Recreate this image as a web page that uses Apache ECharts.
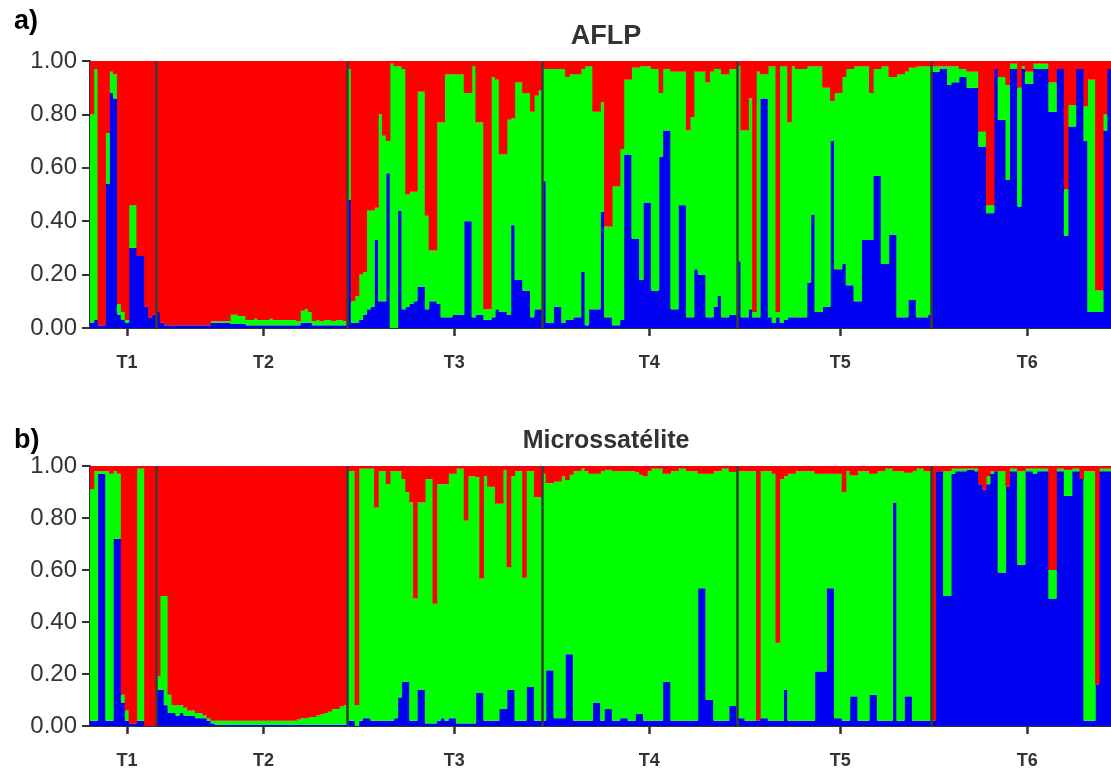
<!DOCTYPE html>
<html>
<head>
<meta charset="utf-8">
<script src="https://cdn.jsdelivr.net/npm/echarts@6/dist/echarts.min.js"></script>
<style>
html,body{margin:0;padding:0;background:#fff;}
#chart{width:1111px;height:770px;}
</style>
</head>
<body>
<div id="chart"></div>
<script>
// ---------------- DATA ----------------
const popNames = ['T1', 'T2', 'T3', 'T4', 'T5', 'T6'];
const popSizes = [17, 49, 50, 50, 50, 46];
const yTicks = [0, 0.2, 0.4, 0.6, 0.8, 1.0];

// AFLP (panel a): membership of cluster "blue" and "green"; red = remainder
const aflpBlue = [
  // T1
  0.02,0.03,0.01,0.01,0.54,0.88,0.86,0.05,0.03,0.02,0.30,0.30,0.27,0.27,0.08,0.04,0.05,
  // T2
  0.06,0.02,0.01,0.01,0.01,0.01,0.01,0.01,0.01,0.01,0.01,0.01,0.01,0.01,
  0.02,0.02,0.02,0.02,0.02,0.015,0.015,0.015,0.015,
  0.01,0.01,0.01,0.01,0.01,0.01,0.01,0.01,0.01,0.01,0.01,0.01,0.01,
  0.01,0.02,0.02,0.02,0.01,0.01,0.01,0.01,0.01,0.01,0.01,0.01,0.01,
  // T3
  0.48,0.02,0.02,0.03,0.05,0.07,0.08,0.33,0.10,0.10,0.58,0.00,0.00,0.44,0.07,0.08,0.09,0.10,0.155,0.155,
  0.07,0.10,0.10,0.09,0.04,0.04,0.04,0.05,0.05,0.05,0.40,0.40,0.04,0.05,0.05,0.03,0.03,0.04,0.07,0.06,
  0.06,0.05,0.385,0.18,0.18,0.14,0.14,0.04,0.07,0.07,
  // T4
  0.55,0.02,0.02,0.08,0.08,0.02,0.03,0.03,0.04,0.04,0.21,0.01,0.07,0.07,0.07,0.435,0.04,0.04,0.01,0.01,
  0.03,0.65,0.65,0.335,0.335,0.18,0.47,0.47,0.14,0.14,0.64,0.74,0.74,0.07,0.07,0.46,0.46,0.04,0.04,0.22,
  0.20,0.20,0.04,0.04,0.08,0.12,0.04,0.04,0.05,0.05,
  // T5
  0.25,0.04,0.04,0.07,0.04,0.04,0.86,0.86,0.04,0.02,0.04,0.02,0.03,0.04,0.04,0.04,0.04,0.04,0.17,0.425,
  0.06,0.06,0.08,0.08,0.70,0.22,0.22,0.24,0.16,0.16,0.10,0.10,0.33,0.33,0.33,0.57,0.57,0.24,0.24,0.35,
  0.35,0.04,0.04,0.04,0.105,0.105,0.04,0.04,0.04,0.05,
  // T6
  0.96,0.96,0.97,0.97,0.91,0.92,0.92,0.94,0.94,0.90,0.90,0.90,0.68,0.68,0.43,0.43,0.97,0.78,0.78,0.555,
  0.97,0.97,0.455,0.97,0.915,0.915,0.97,0.97,0.97,0.97,0.81,0.81,0.97,0.97,0.345,0.755,0.755,0.97,0.97,0.70,
  0.06,0.06,0.06,0.06,0.74,0.97
];
const aflpGreen = [
  // T1
  0.78,0.94,0.00,0.00,0.19,0.08,0.09,0.04,0.03,0.01,0.16,0.16,0.00,0.00,0.00,0.00,0.00,
  // T2
  0,0,0,0,0,0,0,0,0,0,0,0,0,0,
  0.005,0.005,0.005,0.005,0.005,0.035,0.035,0.03,0.03,
  0.02,0.02,0.025,0.02,0.02,0.02,0.025,0.02,0.02,0.02,0.02,0.02,0.02,
  0.015,0.045,0.05,0.04,0.015,0.02,0.015,0.02,0.02,0.015,0.02,0.02,0.015,
  // T3
  0.49,0.08,0.10,0.17,0.16,0.37,0.36,0.12,0.70,0.62,0.12,0.99,0.98,0.54,0.90,0.42,0.42,0.41,0.73,0.73,
  0.35,0.19,0.19,0.68,0.73,0.91,0.91,0.90,0.90,0.90,0.48,0.48,0.94,0.72,0.72,0.04,0.04,0.90,0.86,0.59,
  0.59,0.73,0.40,0.74,0.74,0.74,0.74,0.77,0.80,0.82,
  // T4
  0.42,0.95,0.95,0.89,0.89,0.95,0.91,0.92,0.91,0.91,0.76,0.97,0.91,0.74,0.74,0.41,0.34,0.34,0.52,0.52,
  0.64,0.28,0.28,0.64,0.64,0.80,0.51,0.51,0.83,0.83,0.24,0.23,0.23,0.89,0.89,0.50,0.50,0.70,0.75,0.74,
  0.76,0.76,0.88,0.92,0.89,0.85,0.91,0.91,0.92,0.92,
  // T5
  0.73,0.70,0.70,0.79,0.02,0.92,0.09,0.09,0.94,0.96,0.02,0.96,0.95,0.73,0.94,0.93,0.93,0.93,0.81,0.555,
  0.92,0.92,0.82,0.82,0.15,0.66,0.66,0.70,0.81,0.81,0.88,0.88,0.65,0.65,0.55,0.40,0.40,0.74,0.74,0.59,
  0.59,0.91,0.91,0.92,0.87,0.87,0.94,0.94,0.94,0.93,
  // T6
  0.02,0.02,0.01,0.01,0.07,0.06,0.06,0.03,0.03,0.06,0.06,0.06,0.055,0.055,0.03,0.03,0.00,0.16,0.16,0.355,
  0.02,0.02,0.445,0.01,0.045,0.045,0.02,0.02,0.02,0.02,0.11,0.11,0.00,0.00,0.175,0.08,0.08,0.00,0.00,0.13,
  0.87,0.87,0.08,0.08,0.06,0.00
];

// Microsatellites (panel b)
const microBlue = [
  // T1
  0.02,0.02,0.97,0.97,0.02,0.02,0.72,0.72,0.09,0.02,0.01,0.01,0.02,0.02,0.00,0.00,0.00,
  // T2
  0.14,0.14,0.08,0.05,0.05,0.04,0.05,0.04,0.04,0.04,0.03,0.03,0.03,0.02,0.01,
  0.005,0.005,0.005,0.005,0.005,0.005,0.005,0.005,0.005,0.005,0.005,0.005,0.005,0.005,0.005,0.005,0.005,
  0.005,0.005,0.005,0.005,0.005,0.005,0.005,0.005,0.005,0.005,0.005,0.005,0.005,0.005,0.005,0.005,0.005,
  // T3
  0.02,0.02,0.00,0.02,0.03,0.03,0.02,0.02,0.02,0.02,0.02,0.02,0.03,0.11,0.17,0.17,0.02,0.02,0.14,0.14,
  0.01,0.01,0.01,0.02,0.03,0.02,0.03,0.03,0.01,0.01,0.01,0.01,0.01,0.127,0.127,0.02,0.02,0.02,0.02,0.065,
  0.065,0.14,0.14,0.02,0.02,0.02,0.15,0.15,0.02,0.02,
  // T4
  0.02,0.214,0.214,0.03,0.03,0.03,0.276,0.276,0.02,0.02,0.02,0.02,0.02,0.09,0.09,0.02,0.065,0.065,0.02,0.02,
  0.03,0.03,0.02,0.02,0.046,0.046,0.02,0.02,0.02,0.02,0.02,0.17,0.17,0.02,0.02,0.02,0.02,0.02,0.02,0.02,
  0.53,0.53,0.10,0.10,0.02,0.02,0.02,0.02,0.077,0.077,
  // T5
  0.03,0.03,0.02,0.02,0.02,0.02,0.03,0.03,0.02,0.02,0.02,0.02,0.14,0.02,0.02,0.02,0.02,0.02,0.02,0.02,
  0.21,0.21,0.21,0.53,0.53,0.03,0.03,0.02,0.02,0.114,0.114,0.02,0.02,0.02,0.12,0.12,0.02,0.02,0.02,0.02,
  0.86,0.02,0.02,0.114,0.114,0.02,0.02,0.02,0.02,0.02,
  // T6
  0.02,0.98,0.98,0.50,0.50,0.97,0.98,0.98,0.98,0.985,0.985,0.98,0.93,0.91,0.93,0.97,0.98,0.59,0.59,0.92,
  0.98,0.98,0.62,0.62,0.98,0.98,0.97,0.98,0.98,0.98,0.49,0.49,0.98,0.98,0.885,0.885,0.98,0.98,0.95,0.02,
  0.02,0.02,0.16,0.98,0.98,0.98
];
const microGreen = [
  // T1
  0.89,0.96,0.01,0.01,0.96,0.95,0.26,0.25,0.03,0.04,0.00,0.00,0.97,0.97,0.00,0.00,0.00,
  // T2
  0.05,0.36,0.42,0.07,0.03,0.04,0.03,0.03,0.02,0.02,0.02,0.02,0.01,0.01,0.01,
  0.015,0.015,0.015,0.015,0.015,0.015,0.015,0.015,0.015,0.015,0.015,0.015,0.015,0.015,0.015,0.015,0.015,
  0.015,0.015,0.015,0.015,0.02,0.025,0.025,0.03,0.03,0.035,0.04,0.045,0.05,0.06,0.06,0.07,0.075,
  // T3
  0.96,0.96,0.08,0.97,0.96,0.96,0.97,0.82,0.96,0.96,0.91,0.96,0.95,0.87,0.78,0.73,0.84,0.47,0.72,0.72,
  0.94,0.94,0.46,0.91,0.90,0.91,0.94,0.94,0.98,0.98,0.78,0.95,0.95,0.83,0.44,0.94,0.90,0.90,0.835,0.79,
  0.92,0.47,0.82,0.96,0.96,0.55,0.83,0.83,0.86,0.86,
  // T4
  0.95,0.72,0.72,0.91,0.91,0.93,0.67,0.69,0.96,0.96,0.97,0.96,0.95,0.88,0.88,0.96,0.92,0.92,0.96,0.96,
  0.95,0.95,0.96,0.96,0.93,0.92,0.94,0.96,0.97,0.97,0.97,0.80,0.80,0.96,0.96,0.97,0.97,0.96,0.96,0.96,
  0.44,0.44,0.87,0.87,0.96,0.96,0.97,0.97,0.90,0.90,
  // T5
  0.95,0.95,0.96,0.96,0.96,0.00,0.95,0.95,0.96,0.95,0.30,0.93,0.82,0.95,0.95,0.96,0.96,0.96,0.96,0.96,
  0.76,0.76,0.76,0.44,0.44,0.94,0.94,0.88,0.96,0.85,0.85,0.96,0.96,0.96,0.85,0.85,0.96,0.96,0.97,0.97,
  0.12,0.96,0.96,0.86,0.86,0.96,0.97,0.97,0.96,0.96,
  // T6
  0.00,0.00,0.00,0.48,0.48,0.02,0.01,0.01,0.01,0.005,0.005,0.01,0.00,0.00,0.03,0.01,0.00,0.39,0.39,0.00,
  0.01,0.01,0.36,0.36,0.01,0.01,0.02,0.01,0.01,0.01,0.11,0.11,0.01,0.01,0.10,0.10,0.01,0.01,0.00,0.96,
  0.96,0.96,0.00,0.01,0.01,0.01
];

// ---------------- LAYOUT / STYLE ----------------
const popTickIndex = [9, 44, 93, 143, 192, 240];   // where the population label ticks sit
const COLORS = { blue: '#0000f2', green: '#00ff00', red: '#ff0000' };
const AXIS_COLOR = '#333333';
const FONT = 'Liberation Sans, Arial, sans-serif';

const N = popSizes.reduce((a, b) => a + b, 0);
const cats = Array.from({ length: N }, (_, i) => String(i + 1));
const bounds = [];
popSizes.reduce((acc, s, k) => { acc += s; if (k < popSizes.length - 1) bounds.push(acc); return acc; }, 0);
const remainder = (b, g) => b.map((v, i) => Math.max(0, +(1 - v - g[i]).toFixed(4)));

const panels = [
  { blue: aflpBlue, green: aflpGreen, top: 61, height: 267 },
  { blue: microBlue, green: microGreen, top: 466, height: 267 }
];

const grid = [], xAxis = [], yAxis = [], series = [];
panels.forEach((p, g) => {
  grid.push({ left: 90, right: 0, top: p.top, height: p.height, containLabel: false });
  xAxis.push({
    type: 'category', gridIndex: g, data: cats, boundaryGap: true,
    axisLine: { show: true, onZero: false, lineStyle: { color: AXIS_COLOR, width: 2 } },
    axisTick: { show: true, alignWithLabel: true, length: 8,
      interval: (i) => popTickIndex.includes(i), lineStyle: { color: AXIS_COLOR, width: 2.5 } },
    axisLabel: { interval: (i) => popTickIndex.includes(i),
      formatter: (v, i) => popNames[popTickIndex.indexOf(i)] || '',
      fontFamily: FONT, fontSize: 18, fontWeight: 'bold',
      color: AXIS_COLOR, margin: 26 },
    splitLine: { show: false }
  });
  xAxis.push({ type: 'value', gridIndex: g, min: 0, max: N, show: false });
  yAxis.push({
    type: 'value', gridIndex: g, min: 0, max: 1, interval: 0.2,
    axisLine: { show: true, lineStyle: { color: AXIS_COLOR, width: 2 } },
    axisTick: { show: true, length: 8, lineStyle: { color: AXIS_COLOR, width: 2 } },
    splitLine: { show: false },
    axisLabel: { formatter: (v) => v.toFixed(2), fontFamily: FONT,
      fontSize: 24, color: AXIS_COLOR, margin: 13 }
  });
  const red = remainder(p.blue, p.green);
  const common = { type: 'bar', xAxisIndex: g * 2, yAxisIndex: g, stack: 'q' + g,
    barWidth: '118%', silent: true, animation: false };
  series.push(Object.assign({ name: 'blue' + g, data: p.blue, itemStyle: { color: COLORS.blue } }, common));
  series.push(Object.assign({ name: 'green' + g, data: p.green, itemStyle: { color: COLORS.green } }, common));
  series.push(Object.assign({ name: 'red' + g, data: red, itemStyle: { color: COLORS.red } }, common));
  series.push({
    type: 'line', xAxisIndex: g * 2 + 1, yAxisIndex: g, data: [[0, 0]], showSymbol: false,
    lineStyle: { opacity: 0 }, silent: true, animation: false, z: 10,
    markLine: { symbol: 'none', silent: true, animation: false, label: { show: false },
      lineStyle: { color: '#3a3a3a', width: 2.5, type: 'solid' },
      data: bounds.map(b => ({ xAxis: b })) }
  });
});

const chart = echarts.init(document.getElementById('chart'), null, { renderer: 'canvas' });
chart.setOption({
  backgroundColor: '#ffffff',
  animation: false,
  title: [
    { text: 'a)', left: 9, top: 3, textStyle: { fontFamily: FONT, fontSize: 27, fontWeight: 'bold', color: '#000' } },
    { text: 'AFLP', left: 601, top: 18, textAlign: 'center', textStyle: { fontFamily: FONT, fontSize: 27, fontWeight: 'bold', color: '#333' } },
    { text: 'b)', left: 9, top: 422, textStyle: { fontFamily: FONT, fontSize: 27, fontWeight: 'bold', color: '#000' } },
    { text: 'Microssatélite', left: 601, top: 424, textAlign: 'center', textStyle: { fontFamily: FONT, fontSize: 25, fontWeight: 'bold', color: '#333' } }
  ],
  grid, xAxis, yAxis, series
});
</script>
</body>
</html>
